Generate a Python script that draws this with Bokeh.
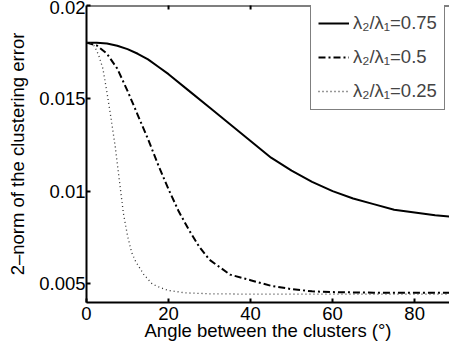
import math
from bokeh.plotting import figure
from bokeh.models import Range1d, FixedTicker, Span
from bokeh.embed import file_html
from bokeh.resources import INLINE

# Data
angle_a = [0, 2.5, 5, 7.5, 10, 12.5, 15, 17.5, 20, 25, 30, 35, 40, 45, 50, 55, 60, 65, 70, 75,
           80, 85, 90]
err_075 = [0.0180, 0.01799, 0.01795, 0.01783, 0.01765, 0.0174, 0.0171, 0.0167, 0.0163, 0.0154,
           0.0145, 0.0136, 0.0127, 0.0118, 0.0111, 0.0105, 0.0100, 0.0096, 0.0093, 0.0090,
           0.00885, 0.0087, 0.0086]

angle_b = [0, 2.5, 5, 7.5, 10, 12.5, 15, 17.5, 20, 22.5, 25, 27.5, 30, 32.5, 35, 40, 45,
           50, 55, 60, 70, 80, 90]
err_050 = [0.0180, 0.01785, 0.0174, 0.0166, 0.0154, 0.0141, 0.0128, 0.0114, 0.0101, 0.0089,
           0.0079, 0.0070, 0.0063, 0.0059, 0.0055, 0.0052, 0.0049, 0.00472, 0.0046, 0.00456,
           0.00453, 0.00452, 0.00452]

angle_c = [0, 1, 2, 3, 4, 5, 6, 7, 8, 9, 10, 11, 12, 14, 16, 18, 20, 24, 30, 40, 50, 60,
           70, 80, 90]
err_025 = [0.0180, 0.01798, 0.0178, 0.0173, 0.0166, 0.0153, 0.0139, 0.0124, 0.0106, 0.0088,
           0.0076, 0.0067, 0.0062, 0.0055, 0.0050, 0.0048, 0.00465, 0.00452, 0.00447,
           0.00445, 0.00445, 0.00445, 0.00445, 0.00445, 0.00445]

legend_labels = ["λ₂/λ₁=0.75", "λ₂/λ₁=0.5", "λ₂/λ₁=0.25"]
x_ticks = [0, 20, 40, 60, 80]
y_ticks = [0.005, 0.01, 0.015, 0.02]
y_tick_labels = {0.005: "0.005", 0.01: "0.01", 0.015: "0.015", 0.02: "0.02"}
x_label = "Angle between the clusters (°)"
y_label = "2–norm of the clustering error"
x_min, x_max = 0, 88.5
y_min, y_max = 0.004, 0.02

FONT = "Liberation Sans"
FS = "18.5px"

p = figure(width=449, height=355, x_range=Range1d(x_min, x_max), y_range=Range1d(y_min, y_max),
           output_backend="svg", toolbar_location=None,
           min_border_left=86, min_border_right=0, min_border_top=5, min_border_bottom=53)
p.outline_line_color = None
p.xgrid.grid_line_color = None
p.ygrid.grid_line_color = None

# top frame edge with inward ticks
p.add_layout(Span(location=y_max, dimension="width", line_color="black", line_width=2))
p.scatter(x_ticks[1:], [y_max] * (len(x_ticks) - 1), marker="dash", angle=math.pi / 2,
          size=8, line_color="black", line_width=2)

p.line(angle_a, err_075, line_color="black", line_width=2, legend_label=legend_labels[0])
p.line(angle_b, err_050, line_color="black", line_width=2, line_dash="7 3 2 3",
       legend_label=legend_labels[1])
p.line(angle_c, err_025, line_color="#333333", line_width=1.3, line_dash="1 3",
       legend_label=legend_labels[2])

for ax in (p.xaxis[0], p.yaxis[0]):
    ax.axis_line_width = 2
    ax.axis_line_color = "black"
    ax.major_tick_in = 4
    ax.major_tick_out = 0
    ax.major_tick_line_width = 2
    ax.minor_tick_line_color = None
    ax.major_label_text_font = FONT
    ax.major_label_text_font_size = FS
    ax.major_label_text_color = "black"
    ax.axis_label_text_font = FONT
    ax.axis_label_text_font_size = FS
    ax.axis_label_text_font_style = "normal"
    ax.axis_label_text_color = "black"

p.xaxis[0].ticker = FixedTicker(ticks=x_ticks)
p.xaxis[0].axis_label = x_label
p.xaxis[0].major_label_standoff = 4
p.xaxis[0].axis_label_standoff = -3

p.yaxis[0].ticker = FixedTicker(ticks=y_ticks)
p.yaxis[0].major_label_overrides = y_tick_labels
p.yaxis[0].axis_label = y_label
p.yaxis[0].major_label_standoff = 1
p.yaxis[0].axis_label_standoff = 8

lg = p.legend[0]
lg.location = (224, 192)
lg.label_text_font = FONT
lg.label_text_font_size = FS
lg.glyph_width = 31
lg.glyph_height = 20
lg.label_height = 20
lg.label_standoff = 4
lg.spacing = 12
lg.padding = 7
lg.margin = 0
lg.border_line_color = "black"
lg.border_line_width = 1
lg.background_fill_alpha = 1

open("out.html", "w").write(file_html(p, INLINE))
